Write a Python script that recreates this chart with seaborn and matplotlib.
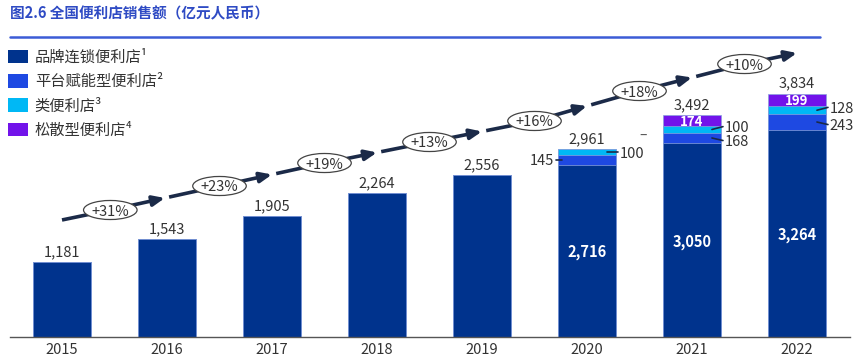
import numpy as np
import pandas as pd
import seaborn as sns
import matplotlib.pyplot as plt
from matplotlib.patches import Ellipse, Patch
from matplotlib.lines import Line2D

# datos del grafico (亿元人民币)
anios = ['2015', '2016', '2017', '2018', '2019', '2020', '2021', '2022']
marca = [1181, 1543, 1905, 2264, 2556, 2716, 3050, 3264]        # 品牌连锁便利店
plataforma = [0, 0, 0, 0, 0, 145, 168, 243]                      # 平台赋能型便利店
clase = [0, 0, 0, 0, 0, 100, 100, 128]                           # 类便利店
disperso = [0, 0, 0, 0, 0, 0, 174, 199]                          # 松散型便利店
crecimiento = ['+31%', '+23%', '+19%', '+13%', '+16%', '+18%', '+10%']
series = ['品牌连锁便利店¹', '平台赋能型便利店²', '类便利店³', '松散型便利店⁴']
titulo = '图2.6 全国便利店销售额（亿元人民币）'

# posiciones de la flecha de crecimiento (solo maquetacion)
flecha_x = [0.46, 1.5, 2.5, 3.5, 4.5, 5.5, 6.5]
flecha_y = [2000, 2378, 2740, 3071, 3402, 3874, 4299]
flecha_ini = (0.0, 1843)
flecha_fin = (7.0, 4472)

c_marca = '#00338D'
c_plat = '#1E49E2'
c_clase = '#00B8F5'
c_disp = '#7213EA'
c_texto = '#333333'
c_linea = '#1B2A48'

sns.set_style('white')
plt.rcParams['font.family'] = ['Noto Sans CJK SC', 'DejaVu Sans']

df = pd.DataFrame({'anio': anios, 'marca': marca, 'plataforma': plataforma,
                   'clase': clase, 'disperso': disperso})
df['c2'] = df['marca'] + df['plataforma']
df['c3'] = df['c2'] + df['clase']
df['c4'] = df['c3'] + df['disperso']

fig = plt.figure(figsize=(8.55, 3.61), dpi=100)
ax = fig.add_axes([9.5 / 855, 24 / 361, 840 / 855, 337 / 361])

# barras apiladas: se dibuja de la mas alta a la mas baja
for col, color in [('c4', c_disp), ('c3', c_clase), ('c2', c_plat), ('marca', c_marca)]:
    sns.barplot(data=df, x='anio', y=col, color=color, saturation=1, width=0.55,
                edgecolor='#8aa2dd', linewidth=0.5, ax=ax, zorder=2)

ax.set_xlim(-0.5, 7.5)
ax.set_ylim(0, 337 / 0.0635)
ax.set_xlabel('')
ax.set_ylabel('')
ax.set_yticks([])
ax.tick_params(axis='x', length=0, pad=4, labelsize=10.5, labelcolor=c_texto)
for s in ['top', 'right', 'left']:
    ax.spines[s].set_visible(False)
ax.spines['bottom'].set_color('#555555')
ax.spines['bottom'].set_linewidth(1.0)

# etiquetas de total
for i, row in df.iterrows():
    ax.annotate(f"{row['c4']:,}", (i, row['c4']), xytext=(0, 2), textcoords='offset points',
                ha='center', va='bottom', fontsize=10.5, color=c_texto)

# etiquetas dentro de las barras
for i in range(5, 8):
    row = df.iloc[i]
    ax.text(i, row['marca'] / 2, f"{row['marca']:,}", ha='center', va='center_baseline',
            fontsize=10.5, fontweight='bold', color='white', zorder=5)
    if row['disperso'] > 0:
        ax.text(i, row['c3'] + row['disperso'] / 2, f"{row['disperso']}", ha='center',
                va='center_baseline', fontsize=9.5, fontweight='bold', color='white', zorder=5)

# etiquetas laterales con linea guia
def lateral(i, y, texto, lado, dy=0):
    if lado == 'der':
        ax.plot([i + 0.19, i + 0.295], [y, y + dy], color=c_linea, lw=1.2, zorder=5)
        ax.text(i + 0.31, y + dy, texto, ha='left', va='center_baseline', fontsize=10.5,
                color=c_texto)
    else:
        ax.plot([i - 0.24, i - 0.30], [y, y], color=c_linea, lw=1.2, zorder=5)
        ax.text(i - 0.31, y, texto, ha='right', va='center_baseline', fontsize=10.5,
                color=c_texto)

r = df.iloc[5]
lateral(5, r['marca'] + r['plataforma'] / 2, str(r['plataforma']), 'izq')
lateral(5, r['c2'] + r['clase'] / 2, str(r['clase']), 'der')
for i in (6, 7):
    r = df.iloc[i]
    lateral(i, r['c2'] + r['clase'] / 2, str(r['clase']), 'der', dy=45)
    lateral(i, r['marca'] + r['plataforma'] / 2, str(r['plataforma']), 'der', dy=-40)
ax.text(5.53, 3165, '–', ha='center', va='center', fontsize=10, color='#555555')

# flecha de crecimiento
estilo = dict(arrowstyle='-|>,head_length=0.7,head_width=0.3', color=c_linea, lw=2.6,
              shrinkA=0, shrinkB=0, mutation_scale=10)
ax.plot([flecha_ini[0], flecha_x[0]], [flecha_ini[1], flecha_y[0]], color=c_linea,
        lw=2.6, solid_capstyle='butt', zorder=3)
puntos = list(zip(flecha_x, flecha_y)) + [flecha_fin]
for k in range(len(puntos) - 1):
    x0, y0 = puntos[k]
    x1, y1 = puntos[k + 1]
    if k < len(puntos) - 2:
        xm, ym = (x0 + x1) / 2, (y0 + y1) / 2
        ax.annotate('', xy=(xm, ym), xytext=(x0, y0), arrowprops=estilo, zorder=3)
        f = 0.04 / (x1 - x0)
        xs, ys = xm + (x1 - x0) * f, ym + (y1 - y0) * f
        ax.plot([xs, x1], [ys, y1], color=c_linea, lw=2.6, solid_capstyle='butt', zorder=3)
    else:
        ax.annotate('', xy=(x1, y1), xytext=(x0, y0), arrowprops=estilo, zorder=3)

for x, y, t in zip(flecha_x, flecha_y, crecimiento):
    ax.add_patch(Ellipse((x, y), width=0.51, height=300, facecolor='white',
                         edgecolor='#444444', lw=0.9, zorder=4))
    ax.text(x, y, t, ha='center', va='center_baseline', fontsize=10.5, color=c_texto, zorder=5)

# titulo y linea
fig.text(10 / 855, 1 - 13 / 361, titulo, fontsize=10.5, fontweight='bold',
         color='#2F4BC4', va='center', ha='left')
fig.add_artist(Line2D([10 / 855, 820 / 855], [1 - 37 / 361, 1 - 37 / 361],
                      color='#3C5CD6', lw=1.8, transform=fig.transFigure))

# leyenda
manejadores = [Patch(facecolor=c, edgecolor='none') for c in [c_marca, c_plat, c_clase, c_disp]]
ax.legend(manejadores, series, loc='upper left', bbox_to_anchor=(8 / 855, 1 - 49 / 361),
          bbox_transform=fig.transFigure, frameon=False, fontsize=11, handlelength=1.3,
          handleheight=0.98, handletextpad=0.45, labelspacing=0.47, borderaxespad=0,
          borderpad=0, labelcolor=c_texto)

plt.savefig('out.png', dpi=100)
